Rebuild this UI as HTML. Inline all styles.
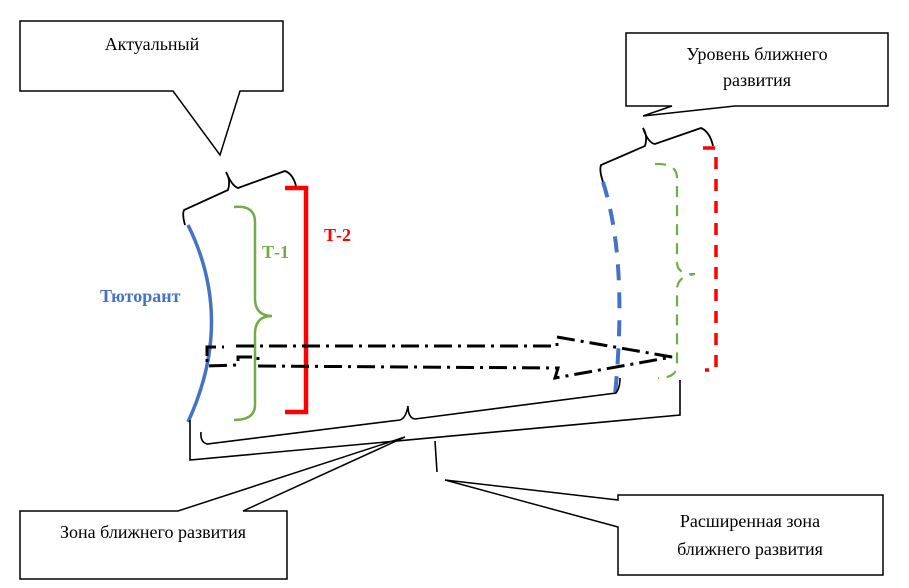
<!DOCTYPE html>
<html><head><meta charset="utf-8"><style>
html,body{margin:0;padding:0;background:#fff;}
svg{display:block;}
text{font-family:"Liberation Serif","DejaVu Serif",serif;}
</style></head><body>
<svg width="909" height="588" viewBox="0 0 909 588" xmlns="http://www.w3.org/2000/svg">
<path d="M20,21 H283 V91 H240 L220,155 L173,91 H20 Z" fill="#fff" stroke="#000" stroke-width="1.5"/>
<text x="152" y="50" font-size="18" text-anchor="middle">Актуальный</text>
<path d="M626,33 H888 V106 H735 L643,116 L672,106 H626 Z" fill="#fff" stroke="#000" stroke-width="1.5"/>
<text x="757" y="60" font-size="18" text-anchor="middle">Уровень ближнего</text>
<text x="757" y="86" font-size="18" text-anchor="middle">развития</text>

<path d="M185,225 Q182,214 184,210 L228,190 Q231,180 226,172 Q232,186 238,188 L285,171 Q293,174 296,186" fill="none" stroke="#000" stroke-width="1.8"/>
<path d="M603,182 Q599,170 601,165 L645,146 Q648,136 643,128 Q648,143 655,144 L701,128 Q710,132 713,146" fill="none" stroke="#000" stroke-width="1.8"/>

<path d="M188,225 Q235,320 188,422" fill="none" stroke="#4472c4" stroke-width="3.5"/>
<path d="M234,207 Q255,205 255,222 V300 Q256,316 272,316 Q256,316 255,332 V405 Q255,420 234,420" fill="none" stroke="#70ad47" stroke-width="2.5"/>
<path d="M285,188 H306 V412 H285" fill="none" stroke="#ff0000" stroke-width="4.5"/>

<path d="M603,182 Q628,260 615,395" fill="none" stroke="#4472c4" stroke-width="4" stroke-dasharray="16,12"/>
<path d="M655,164 Q677,163 677,178 V262 Q677,275 695,274 Q677,276 677,290 V365 Q677,378 658,378" fill="none" stroke="#70ad47" stroke-width="2.2" stroke-dasharray="11,8"/>
<path d="M703,148 H716 V370 H705" fill="none" stroke="#ff0000" stroke-width="3.5" stroke-dasharray="12,10"/>

<path d="M207,356 V347 H224 M236,346 H557 V337 L672,357 L555,378 L558,368 L258,366 V357 L238,357 V365 L207,366 V356" fill="none" stroke="#000" stroke-width="3" stroke-dasharray="18,6,3,6"/>

<path d="M201,432 Q200,442 207,444 L400,420 Q406,418 408,406 Q408,418 415,419 L616,393 Q620,388 620,378" fill="none" stroke="#000" stroke-width="1.6"/>
<path d="M190,420 V460 L680,415 V380" fill="none" stroke="#000" stroke-width="1.6"/>
<path d="M435,441 L437,472" stroke="#000" stroke-width="1.6"/>

<path d="M20,511 H178 L405,437 L243,511 H287 V579 H20 Z" fill="#fff" stroke="#000" stroke-width="1.5"/>
<text x="153" y="538" font-size="18" text-anchor="middle">Зона ближнего развития</text>
<path d="M618,495 H883 V575 H618 V527 L445,480 L618,500 Z" fill="#fff" stroke="#000" stroke-width="1.5"/>
<text x="750" y="527" font-size="18" text-anchor="middle">Расширенная зона</text>
<text x="750" y="555" font-size="18" text-anchor="middle">ближнего развития</text>

<text x="100" y="302" font-size="18" font-weight="bold" fill="#4472c4">Тюторант</text>
<text x="262" y="258" font-size="18" font-weight="bold" fill="#70ad47">Т-1</text>
<text x="324" y="241" font-size="18" font-weight="bold" fill="#ff0000">Т-2</text>
</svg>
</body></html>
